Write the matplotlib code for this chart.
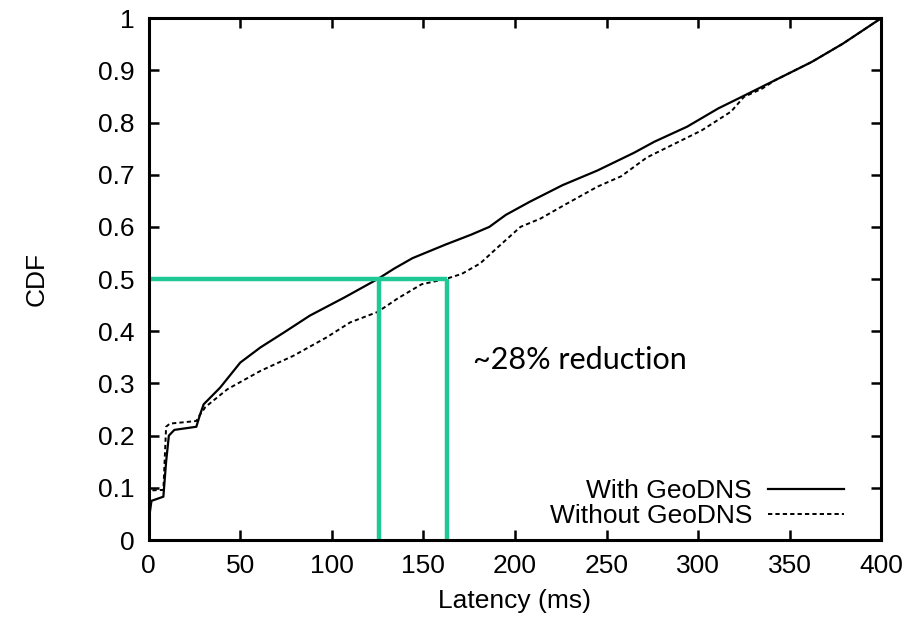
import matplotlib
matplotlib.use("Agg")
import matplotlib.pyplot as plt
from matplotlib.ticker import FuncFormatter

# CDF
with_x = [0, 0.5, 1.5, 8, 9.5, 11, 14, 26, 28, 30, 39, 50, 61, 74, 88, 107, 125, 134,
          144, 162, 176, 186, 195, 208, 226, 245, 265, 276, 294, 311, 322, 342, 362, 379, 400]
with_y = [0, 0.05, 0.075, 0.083, 0.15, 0.2, 0.211, 0.217, 0.24, 0.26, 0.292, 0.34, 0.369,
          0.398, 0.43, 0.465, 0.5, 0.52, 0.54, 0.566, 0.585, 0.6, 0.623, 0.648, 0.68,
          0.708, 0.742, 0.763, 0.792, 0.827, 0.846, 0.881, 0.916, 0.951, 1.0]

without_x = [0, 1, 8, 9.5, 11.5, 26, 28, 31, 43, 61, 79, 97, 110, 125, 136, 149, 162, 171,
             181, 190, 203, 214, 227, 245, 258, 272, 287, 302, 318, 325, 335, 342, 362, 379, 400]
without_y = [0.085, 0.095, 0.096, 0.217, 0.223, 0.228, 0.24, 0.255, 0.289, 0.324, 0.353,
             0.388, 0.417, 0.437, 0.463, 0.49, 0.5, 0.51, 0.53, 0.559, 0.6, 0.616, 0.642,
             0.677, 0.697, 0.733, 0.759, 0.785, 0.821, 0.849, 0.865, 0.881, 0.916, 0.951, 1.0]

median_with = 126
median_without = 163
median_level = 0.5

x_ticks = [0, 50, 100, 150, 200, 250, 300, 350, 400]
y_ticks = [0, 0.1, 0.2, 0.3, 0.4, 0.5, 0.6, 0.7, 0.8, 0.9, 1.0]

plt.rcParams['font.family'] = ['Liberation Sans', 'DejaVu Sans']

fig = plt.figure(figsize=(9.18, 6.25), dpi=100)
ax = fig.add_axes([0.162, 0.136, 0.798, 0.835])

ax.plot(with_x, with_y, color='black', lw=1.6, label='With GeoDNS')
ax.plot(without_x, without_y, color='black', lw=1.4, ls=(0, (2.2, 1.6)), label='Without GeoDNS')

green = '#1fc996'
ax.plot([0, median_without], [median_level, median_level], color=green, lw=3.2, solid_capstyle='butt')
ax.plot([median_with, median_with], [0, median_level], color=green, lw=3.2, solid_capstyle='butt')
ax.plot([median_without, median_without], [0, median_level], color=green, lw=3.2, solid_capstyle='butt')

ax.text(177, 0.345, '~28% reduction', fontsize=22, family=['Lato', 'DejaVu Sans'],
        va='center', ha='left')

ax.set_xlim(0, 400)
ax.set_ylim(0, 1)
ax.set_xticks(x_ticks)
ax.set_yticks(y_ticks)
ax.yaxis.set_major_formatter(FuncFormatter(lambda v, p: '%g' % v))
ax.tick_params(direction='in', length=7, width=1.8, top=True, right=True,
               labelsize=19, pad=10)
for s in ax.spines.values():
    s.set_linewidth(2.2)

ax.set_xlabel('Latency (ms)', fontsize=19, labelpad=8)
ax.set_ylabel('CDF', fontsize=19, labelpad=36)

ax.legend(loc='lower right', frameon=False, markerfirst=False, fontsize=19,
          handlelength=2.9, handletextpad=0.6, borderaxespad=0.0, labelspacing=0.05,
          bbox_to_anchor=(0.964, 0.002))

fig.savefig('out.png', dpi=100)
